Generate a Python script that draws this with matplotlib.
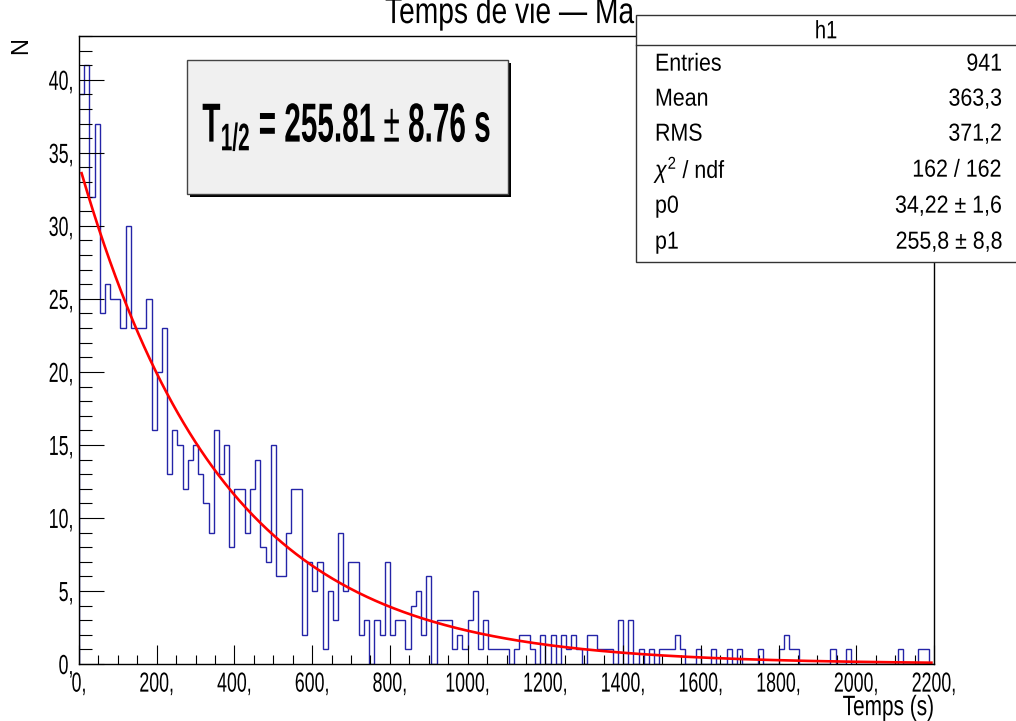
import numpy as np
import matplotlib
matplotlib.use("Agg")
import matplotlib.pyplot as plt
from matplotlib.patches import Rectangle
from matplotlib.ticker import FixedLocator, MultipleLocator
from matplotlib.patheffects import AbstractPathEffect
from matplotlib.transforms import Affine2D

# ---------------- data ----------------
x_min, x_max, n_bins = 0.0, 2200.0, 165
counts = [
    39, 41, 32, 37, 24, 26, 25, 25, 23, 30,
    23, 23, 23, 25, 16, 20, 23, 13, 16, 15,
    12, 14, 15, 13, 11, 9, 16, 13, 15, 8,
    12, 12, 9, 12, 14, 8, 7, 15, 6, 6,
    9, 12, 12, 2, 7, 5, 7, 1, 5, 3,
    9, 5, 7, 7, 2, 3, 0, 3, 2, 7,
    2, 3, 3, 1, 4, 5, 2, 6, 0, 3,
    3, 3, 1, 2, 1, 3, 5, 1, 3, 1,
    1, 1, 1, 0, 1, 2, 2, 1, 0, 2,
    0, 2, 0, 2, 1, 2, 1, 0, 2, 2,
    1, 1, 1, 0, 3, 0, 3, 0, 1, 0,
    1, 0, 1, 1, 1, 2, 1, 0, 0, 1,
    0, 0, 1, 0, 0, 1, 0, 1, 0, 0,
    0, 1, 0, 0, 0, 1, 2, 1, 1, 0,
    0, 0, 0, 0, 0, 1, 0, 0, 1, 0,
    0, 0, 0, 0, 0, 0, 0, 0, 1, 0,
    0, 0, 1, 1, 0,
]
p0, p1 = 34.22, 255.81          # fit parameters (amplitude, half-life)
x_ticks = [0, 200, 400, 600, 800, 1000, 1200, 1400, 1600, 1800, 2000, 2200]
x_tick_labels = ["0,", "200,", "400,", "600,", "800,", "1000,", "1200,",
                 "1400,", "1600,", "1800,", "2000,", "2200,"]
y_ticks = [0, 5, 10, 15, 20, 25, 30, 35, 40]
y_tick_labels = ["0,", "5,", "10,", "15,", "20,", "25,", "30,", "35,", "40,"]
stats_names = ["Entries", "Mean", "RMS", r"$\chi^{2}$ / ndf", "p0", "p1"]
stats_values = ["941", "363,3", "371,2", "162 / 162", "34,22 \u00b1 1,6", "255,8 \u00b1 8,8"]
title = "Temps de vie \u2014 Ma"
x_title = "Temps (s)"
y_title = "N"
fit_text = r"T$_{\mathbf{1/2}}$ = 255.81 $\pm$ 8.76 s"

# ---------------- style ----------------
plt.rcParams["font.family"] = ["Liberation Sans", "DejaVu Sans"]
plt.rcParams["mathtext.fontset"] = "custom"
plt.rcParams["mathtext.rm"] = "Liberation Sans"
plt.rcParams["mathtext.it"] = "Liberation Sans:italic"
plt.rcParams["mathtext.bf"] = "Liberation Sans:bold"


class VStretch(AbstractPathEffect):
    """Draw the text stretched vertically about its mid cap height."""

    def __init__(self, sy):
        super().__init__()
        self.sy = sy

    def draw_path(self, renderer, gc, tpath, affine, rgbFace=None):
        cy = affine.transform((0.0, 36.0))[1]
        t = affine + Affine2D().translate(0, -cy).scale(1, self.sy).translate(0, cy)
        renderer.draw_path(gc, tpath, t, rgbFace)


W, H = 1016, 721
fig = plt.figure(figsize=(W / 100, H / 100), dpi=100)
fig.patch.set_facecolor("white")


def fx(px):
    return px / W


def fy(py):
    return 1 - py / H


ax_l, ax_r, ax_t, ax_b = 79, 934, 36, 664
ax = fig.add_axes([fx(ax_l), fy(ax_b), fx(ax_r) - fx(ax_l), fy(ax_t) - fy(ax_b)])
ax.set_xlim(x_min, x_max)
ax.set_ylim(0, 43)

edges = np.linspace(x_min, x_max, n_bins + 1)
ax.stairs(counts, edges, color="#2424a8", lw=1.0, baseline=0)

centers = 0.5 * (edges[:-1] + edges[1:])
xf = np.linspace(centers[0], centers[-1], 600)
ax.plot(xf, p0 * 2.0 ** (-xf / p1), color="#ff0000", lw=1.9)

for s in ax.spines.values():
    s.set_color("black")
    s.set_linewidth(1.0)

ax.xaxis.set_major_locator(FixedLocator(x_ticks))
ax.set_xticklabels(x_tick_labels)
ax.xaxis.set_minor_locator(MultipleLocator(50))
ax.yaxis.set_major_locator(FixedLocator(y_ticks))
ax.set_yticklabels(y_tick_labels)
ax.yaxis.set_minor_locator(MultipleLocator(1))

TICK_FS, TICK_SY = 12.8, 1.55
ax.tick_params(axis="x", which="major", direction="in", length=13.5, width=0.8,
               labelsize=TICK_FS, pad=8, top=False)
ax.tick_params(axis="x", which="minor", direction="in", length=6.5, width=0.8, top=False)
ax.tick_params(axis="y", which="major", direction="in", length=18, width=0.8,
               labelsize=TICK_FS, pad=4, right=False)
ax.tick_params(axis="y", which="minor", direction="in", length=9, width=0.8, right=False)
for lab in ax.get_xticklabels() + ax.get_yticklabels():
    lab.set_path_effects([VStretch(TICK_SY)])

# axis titles
fig.text(fx(ax_r), fy(707), x_title, ha="right", va="center", fontsize=15,
         path_effects=[VStretch(1.35)])
fig.text(fx(21), fy(37), y_title, ha="center", va="top", rotation=90, fontsize=17)

# title (partly hidden behind stats box, clipped by the top of the figure)
fig.text(fx(385), fy(20), title, ha="left", va="baseline", fontsize=20.3, zorder=1,
         path_effects=[VStretch(1.3)])

# ---------------- stats box ----------------
sb_l, sb_t, sb_r, sb_b = 636, 15, 1030, 262
fig.add_artist(Rectangle((fx(sb_l), fy(sb_b)), fx(sb_r) - fx(sb_l), fy(sb_t) - fy(sb_b),
                         transform=fig.transFigure, facecolor="white",
                         edgecolor="#333333", lw=1.0, zorder=5))
fig.add_artist(plt.Line2D([fx(sb_l), fx(sb_r)], [fy(45), fy(45)],
                          transform=fig.transFigure, color="#333333", lw=1.0, zorder=6))
fig.text(fx(826), fy(31), "h1", ha="center", va="center", fontsize=14.5, zorder=7,
         path_effects=[VStretch(1.25)])
row_y = [64, 99, 134, 170, 206, 242]
for name, val, ry in zip(stats_names, stats_values, row_y):
    fig.text(fx(655), fy(ry), name, ha="left", va="center", fontsize=15.4, zorder=7,
             path_effects=[VStretch(1.15)])
    fig.text(fx(1002), fy(ry), val, ha="right", va="center", fontsize=15.4, zorder=7,
             path_effects=[VStretch(1.15)])

# ---------------- fit result box ----------------
bx_l, bx_t, bx_r, bx_b = 187, 60, 508, 194
fig.add_artist(Rectangle((fx(bx_l + 3), fy(bx_b + 3)), fx(bx_r) - fx(bx_l), fy(bx_t) - fy(bx_b),
                         transform=fig.transFigure, facecolor="black", edgecolor="none", zorder=5))
fig.add_artist(Rectangle((fx(bx_l), fy(bx_b)), fx(bx_r) - fx(bx_l), fy(bx_t) - fy(bx_b),
                         transform=fig.transFigure, facecolor="#f0f0f0",
                         edgecolor="#444444", lw=1.0, zorder=6))
fig.text(fx(347), fy(125), fit_text, ha="center", va="center", fontsize=21.4,
         fontweight="bold", zorder=7, path_effects=[VStretch(1.85)])

fig.savefig("out.png", dpi=100)
